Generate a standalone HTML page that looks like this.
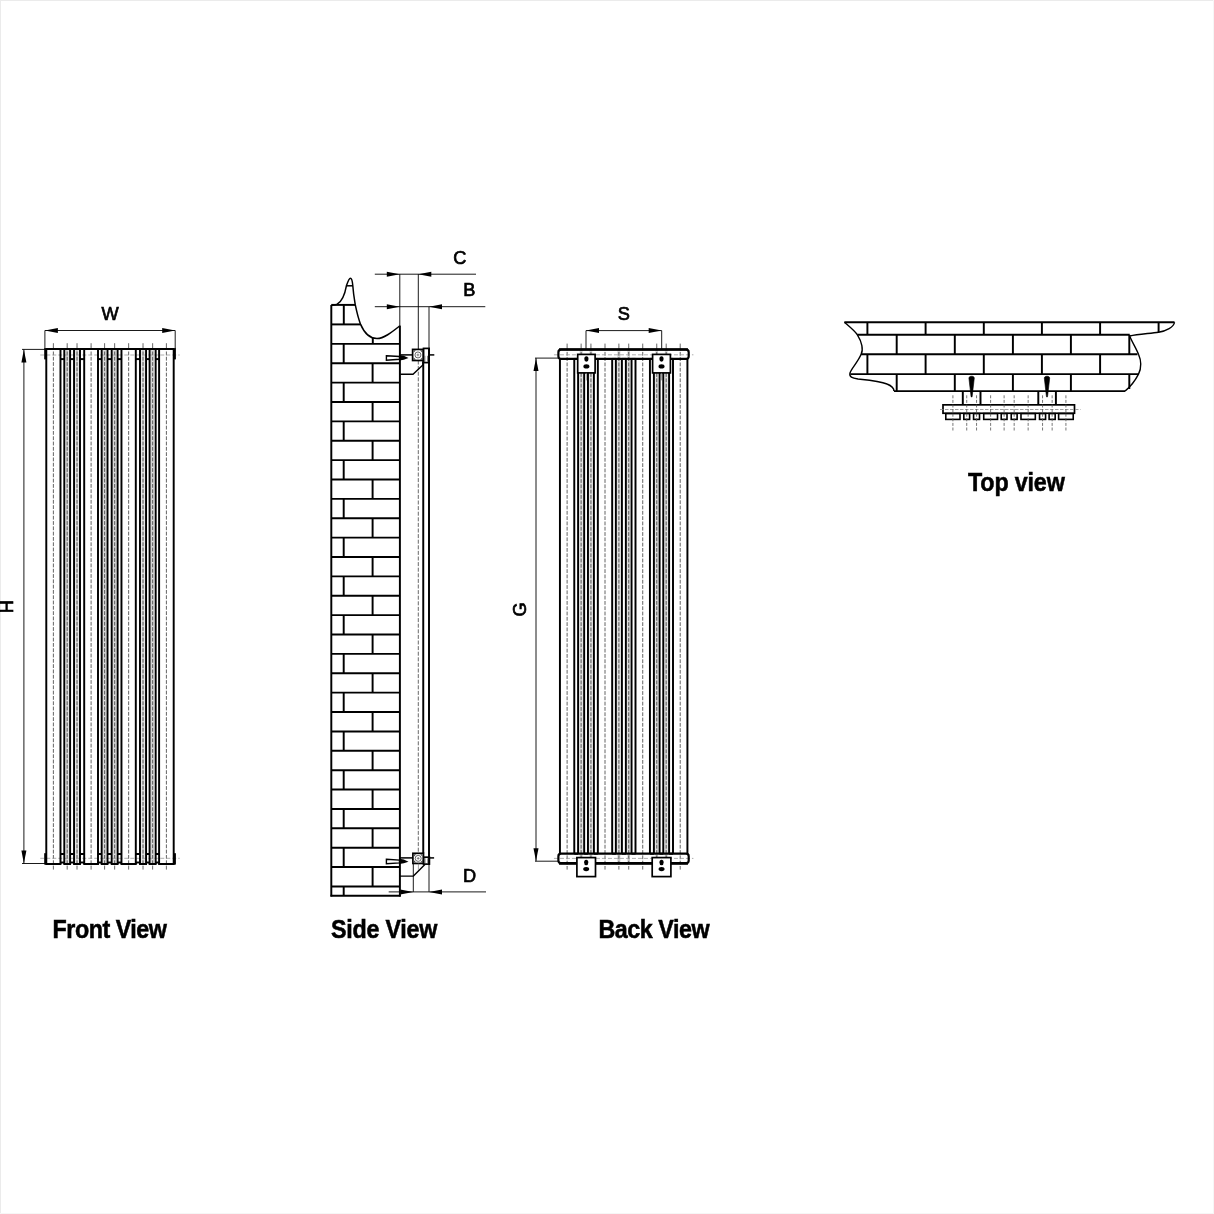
<!DOCTYPE html>
<html><head><meta charset="utf-8"><style>
html,body{margin:0;padding:0;background:#fff;}
body{width:1214px;height:1214px;overflow:hidden;position:relative;}
svg{position:absolute;left:0;top:0;will-change:transform;}
</style></head><body>
<svg width="1214" height="1214" viewBox="0 0 1214 1214">
<rect x="0" y="0" width="1214" height="1214" fill="#fff"/>
<line x1="0" y1="0.5" x2="1214" y2="0.5" stroke="#ebebeb" stroke-width="1"/>
<line x1="0.5" y1="0" x2="0.5" y2="1214" stroke="#ebebeb" stroke-width="1"/>
<line x1="1213.5" y1="0" x2="1213.5" y2="1214" stroke="#f6f6f6" stroke-width="1"/>
<line x1="0" y1="1213.5" x2="1214" y2="1213.5" stroke="#f6f6f6" stroke-width="1"/>
<line x1="53.38" y1="346.20" x2="53.38" y2="866.60" stroke="#3c3c3c" stroke-width="0.8" stroke-dasharray="3.8 1.5"/>
<line x1="53.38" y1="343.20" x2="53.38" y2="346.40" stroke="#444" stroke-width="0.8" />
<line x1="53.38" y1="866.40" x2="53.38" y2="869.60" stroke="#444" stroke-width="0.8" />
<rect x="66.10" y="349.00" width="2.20" height="515.00" fill="#e2e2e2" stroke="none" stroke-width="0" />
<line x1="66.30" y1="349.00" x2="66.30" y2="864.00" stroke="#b0b0b0" stroke-width="0.45" />
<line x1="68.10" y1="349.00" x2="68.10" y2="864.00" stroke="#b0b0b0" stroke-width="0.45" />
<line x1="67.20" y1="346.20" x2="67.20" y2="866.60" stroke="#3c3c3c" stroke-width="0.8" stroke-dasharray="3.8 1.5"/>
<line x1="67.20" y1="343.20" x2="67.20" y2="346.40" stroke="#444" stroke-width="0.8" />
<line x1="67.20" y1="866.40" x2="67.20" y2="869.60" stroke="#444" stroke-width="0.8" />
<rect x="75.86" y="349.00" width="2.34" height="515.00" fill="#e2e2e2" stroke="none" stroke-width="0" />
<line x1="76.06" y1="349.00" x2="76.06" y2="864.00" stroke="#b0b0b0" stroke-width="0.45" />
<line x1="78.00" y1="349.00" x2="78.00" y2="864.00" stroke="#b0b0b0" stroke-width="0.45" />
<line x1="77.03" y1="346.20" x2="77.03" y2="866.60" stroke="#3c3c3c" stroke-width="0.8" stroke-dasharray="3.8 1.5"/>
<line x1="77.03" y1="343.20" x2="77.03" y2="346.40" stroke="#444" stroke-width="0.8" />
<line x1="77.03" y1="866.40" x2="77.03" y2="869.60" stroke="#444" stroke-width="0.8" />
<line x1="91.10" y1="346.20" x2="91.10" y2="866.60" stroke="#3c3c3c" stroke-width="0.8" stroke-dasharray="3.8 1.5"/>
<line x1="91.10" y1="343.20" x2="91.10" y2="346.40" stroke="#444" stroke-width="0.8" />
<line x1="91.10" y1="866.40" x2="91.10" y2="869.60" stroke="#444" stroke-width="0.8" />
<rect x="103.50" y="349.00" width="2.20" height="515.00" fill="#e2e2e2" stroke="none" stroke-width="0" />
<line x1="103.70" y1="349.00" x2="103.70" y2="864.00" stroke="#b0b0b0" stroke-width="0.45" />
<line x1="105.50" y1="349.00" x2="105.50" y2="864.00" stroke="#b0b0b0" stroke-width="0.45" />
<line x1="104.60" y1="346.20" x2="104.60" y2="866.60" stroke="#3c3c3c" stroke-width="0.8" stroke-dasharray="3.8 1.5"/>
<line x1="104.60" y1="343.20" x2="104.60" y2="346.40" stroke="#444" stroke-width="0.8" />
<line x1="104.60" y1="866.40" x2="104.60" y2="869.60" stroke="#444" stroke-width="0.8" />
<rect x="113.50" y="349.00" width="2.30" height="515.00" fill="#e2e2e2" stroke="none" stroke-width="0" />
<line x1="113.70" y1="349.00" x2="113.70" y2="864.00" stroke="#b0b0b0" stroke-width="0.45" />
<line x1="115.60" y1="349.00" x2="115.60" y2="864.00" stroke="#b0b0b0" stroke-width="0.45" />
<line x1="114.65" y1="346.20" x2="114.65" y2="866.60" stroke="#3c3c3c" stroke-width="0.8" stroke-dasharray="3.8 1.5"/>
<line x1="114.65" y1="343.20" x2="114.65" y2="346.40" stroke="#444" stroke-width="0.8" />
<line x1="114.65" y1="866.40" x2="114.65" y2="869.60" stroke="#444" stroke-width="0.8" />
<line x1="128.63" y1="346.20" x2="128.63" y2="866.60" stroke="#3c3c3c" stroke-width="0.8" stroke-dasharray="3.8 1.5"/>
<line x1="128.63" y1="343.20" x2="128.63" y2="346.40" stroke="#444" stroke-width="0.8" />
<line x1="128.63" y1="866.40" x2="128.63" y2="869.60" stroke="#444" stroke-width="0.8" />
<rect x="141.80" y="349.00" width="2.45" height="515.00" fill="#e2e2e2" stroke="none" stroke-width="0" />
<line x1="142.00" y1="349.00" x2="142.00" y2="864.00" stroke="#b0b0b0" stroke-width="0.45" />
<line x1="144.05" y1="349.00" x2="144.05" y2="864.00" stroke="#b0b0b0" stroke-width="0.45" />
<line x1="143.03" y1="346.20" x2="143.03" y2="866.60" stroke="#3c3c3c" stroke-width="0.8" stroke-dasharray="3.8 1.5"/>
<line x1="143.03" y1="343.20" x2="143.03" y2="346.40" stroke="#444" stroke-width="0.8" />
<line x1="143.03" y1="866.40" x2="143.03" y2="869.60" stroke="#444" stroke-width="0.8" />
<rect x="151.40" y="349.00" width="2.46" height="515.00" fill="#e2e2e2" stroke="none" stroke-width="0" />
<line x1="151.60" y1="349.00" x2="151.60" y2="864.00" stroke="#b0b0b0" stroke-width="0.45" />
<line x1="153.66" y1="349.00" x2="153.66" y2="864.00" stroke="#b0b0b0" stroke-width="0.45" />
<line x1="152.63" y1="346.20" x2="152.63" y2="866.60" stroke="#3c3c3c" stroke-width="0.8" stroke-dasharray="3.8 1.5"/>
<line x1="152.63" y1="343.20" x2="152.63" y2="346.40" stroke="#444" stroke-width="0.8" />
<line x1="152.63" y1="866.40" x2="152.63" y2="869.60" stroke="#444" stroke-width="0.8" />
<line x1="166.40" y1="346.20" x2="166.40" y2="866.60" stroke="#3c3c3c" stroke-width="0.8" stroke-dasharray="3.8 1.5"/>
<line x1="166.40" y1="343.20" x2="166.40" y2="346.40" stroke="#444" stroke-width="0.8" />
<line x1="166.40" y1="866.40" x2="166.40" y2="869.60" stroke="#444" stroke-width="0.8" />
<line x1="40.28" y1="355.00" x2="179.70" y2="355.00" stroke="#999" stroke-width="0.8" stroke-dasharray="4 2"/>
<line x1="40.28" y1="858.30" x2="179.70" y2="858.30" stroke="#999" stroke-width="0.8" stroke-dasharray="4 2"/>
<line x1="46.28" y1="349.00" x2="46.28" y2="864.00" stroke="#000" stroke-width="1.95" />
<line x1="60.48" y1="349.00" x2="60.48" y2="864.00" stroke="#000" stroke-width="1.95" />
<line x1="64.30" y1="349.00" x2="64.30" y2="864.00" stroke="#000" stroke-width="1.95" />
<line x1="70.10" y1="349.00" x2="70.10" y2="864.00" stroke="#000" stroke-width="1.95" />
<line x1="74.06" y1="349.00" x2="74.06" y2="864.00" stroke="#000" stroke-width="1.95" />
<line x1="80.00" y1="349.00" x2="80.00" y2="864.00" stroke="#000" stroke-width="1.95" />
<line x1="84.20" y1="349.00" x2="84.20" y2="864.00" stroke="#000" stroke-width="1.95" />
<line x1="98.00" y1="349.00" x2="98.00" y2="864.00" stroke="#000" stroke-width="1.95" />
<line x1="101.70" y1="349.00" x2="101.70" y2="864.00" stroke="#000" stroke-width="1.95" />
<line x1="107.50" y1="349.00" x2="107.50" y2="864.00" stroke="#000" stroke-width="1.95" />
<line x1="111.70" y1="349.00" x2="111.70" y2="864.00" stroke="#000" stroke-width="1.95" />
<line x1="117.60" y1="349.00" x2="117.60" y2="864.00" stroke="#000" stroke-width="1.95" />
<line x1="121.46" y1="349.00" x2="121.46" y2="864.00" stroke="#000" stroke-width="1.95" />
<line x1="135.80" y1="349.00" x2="135.80" y2="864.00" stroke="#000" stroke-width="1.95" />
<line x1="140.00" y1="349.00" x2="140.00" y2="864.00" stroke="#000" stroke-width="1.95" />
<line x1="146.05" y1="349.00" x2="146.05" y2="864.00" stroke="#000" stroke-width="1.95" />
<line x1="149.60" y1="349.00" x2="149.60" y2="864.00" stroke="#000" stroke-width="1.95" />
<line x1="155.66" y1="349.00" x2="155.66" y2="864.00" stroke="#000" stroke-width="1.95" />
<line x1="159.10" y1="349.00" x2="159.10" y2="864.00" stroke="#000" stroke-width="1.95" />
<line x1="173.70" y1="349.00" x2="173.70" y2="864.00" stroke="#000" stroke-width="1.95" />
<line x1="60.48" y1="359.10" x2="64.30" y2="359.10" stroke="#000" stroke-width="1.95" />
<line x1="60.48" y1="854.00" x2="64.30" y2="854.00" stroke="#000" stroke-width="1.95" />
<line x1="70.10" y1="359.10" x2="74.06" y2="359.10" stroke="#000" stroke-width="1.95" />
<line x1="70.10" y1="854.00" x2="74.06" y2="854.00" stroke="#000" stroke-width="1.95" />
<line x1="80.00" y1="359.10" x2="84.20" y2="359.10" stroke="#000" stroke-width="1.95" />
<line x1="80.00" y1="854.00" x2="84.20" y2="854.00" stroke="#000" stroke-width="1.95" />
<line x1="98.00" y1="359.10" x2="101.70" y2="359.10" stroke="#000" stroke-width="1.95" />
<line x1="98.00" y1="854.00" x2="101.70" y2="854.00" stroke="#000" stroke-width="1.95" />
<line x1="107.50" y1="359.10" x2="111.70" y2="359.10" stroke="#000" stroke-width="1.95" />
<line x1="107.50" y1="854.00" x2="111.70" y2="854.00" stroke="#000" stroke-width="1.95" />
<line x1="117.60" y1="359.10" x2="121.46" y2="359.10" stroke="#000" stroke-width="1.95" />
<line x1="117.60" y1="854.00" x2="121.46" y2="854.00" stroke="#000" stroke-width="1.95" />
<line x1="135.80" y1="359.10" x2="140.00" y2="359.10" stroke="#000" stroke-width="1.95" />
<line x1="135.80" y1="854.00" x2="140.00" y2="854.00" stroke="#000" stroke-width="1.95" />
<line x1="146.05" y1="359.10" x2="149.60" y2="359.10" stroke="#000" stroke-width="1.95" />
<line x1="146.05" y1="854.00" x2="149.60" y2="854.00" stroke="#000" stroke-width="1.95" />
<line x1="155.66" y1="359.10" x2="159.10" y2="359.10" stroke="#000" stroke-width="1.95" />
<line x1="155.66" y1="854.00" x2="159.10" y2="854.00" stroke="#000" stroke-width="1.95" />
<line x1="45.43" y1="349.00" x2="174.55" y2="349.00" stroke="#000" stroke-width="1.95" />
<line x1="45.31" y1="864.00" x2="61.45" y2="864.00" stroke="#000" stroke-width="1.95" />
<line x1="63.33" y1="864.00" x2="71.07" y2="864.00" stroke="#000" stroke-width="1.95" />
<line x1="73.09" y1="864.00" x2="80.97" y2="864.00" stroke="#000" stroke-width="1.95" />
<line x1="83.23" y1="864.00" x2="98.97" y2="864.00" stroke="#000" stroke-width="1.95" />
<line x1="100.73" y1="864.00" x2="108.47" y2="864.00" stroke="#000" stroke-width="1.95" />
<line x1="110.73" y1="864.00" x2="118.57" y2="864.00" stroke="#000" stroke-width="1.95" />
<line x1="120.49" y1="864.00" x2="136.77" y2="864.00" stroke="#000" stroke-width="1.95" />
<line x1="139.03" y1="864.00" x2="147.02" y2="864.00" stroke="#000" stroke-width="1.95" />
<line x1="148.63" y1="864.00" x2="156.63" y2="864.00" stroke="#000" stroke-width="1.95" />
<line x1="158.13" y1="864.00" x2="174.67" y2="864.00" stroke="#000" stroke-width="1.95" />
<line x1="60.48" y1="862.50" x2="64.30" y2="862.50" stroke="#000" stroke-width="1.95" />
<line x1="70.10" y1="862.50" x2="74.06" y2="862.50" stroke="#000" stroke-width="1.95" />
<line x1="80.00" y1="862.50" x2="84.20" y2="862.50" stroke="#000" stroke-width="1.95" />
<line x1="98.00" y1="862.50" x2="101.70" y2="862.50" stroke="#000" stroke-width="1.95" />
<line x1="107.50" y1="862.50" x2="111.70" y2="862.50" stroke="#000" stroke-width="1.95" />
<line x1="117.60" y1="862.50" x2="121.46" y2="862.50" stroke="#000" stroke-width="1.95" />
<line x1="135.80" y1="862.50" x2="140.00" y2="862.50" stroke="#000" stroke-width="1.95" />
<line x1="146.05" y1="862.50" x2="149.60" y2="862.50" stroke="#000" stroke-width="1.95" />
<line x1="155.66" y1="862.50" x2="159.10" y2="862.50" stroke="#000" stroke-width="1.95" />
<rect x="44.20" y="348.20" width="2.70" height="11.20" fill="#000" stroke="none" stroke-width="0" />
<rect x="173.20" y="348.20" width="2.70" height="11.20" fill="#000" stroke="none" stroke-width="0" />
<rect x="44.20" y="853.20" width="2.70" height="11.40" fill="#000" stroke="none" stroke-width="0" />
<rect x="173.20" y="853.20" width="2.70" height="11.40" fill="#000" stroke="none" stroke-width="0" />
<line x1="44.90" y1="330.50" x2="175.20" y2="330.50" stroke="#000" stroke-width="0.9" />
<polygon points="44.90,330.50 57.90,328.00 57.90,333.00" fill="#000"/>
<polygon points="175.20,330.50 162.20,333.00 162.20,328.00" fill="#000"/>
<line x1="44.90" y1="330.50" x2="44.90" y2="349.00" stroke="#000" stroke-width="0.9" />
<line x1="175.20" y1="330.50" x2="175.20" y2="349.00" stroke="#000" stroke-width="0.9" />
<text x="110.2" y="320.1" font-family="Liberation Sans" font-size="18.2" font-weight="normal" text-anchor="middle" stroke="#000" stroke-width="0.7">W</text>
<line x1="23.90" y1="349.40" x2="23.90" y2="863.50" stroke="#000" stroke-width="0.9" />
<polygon points="23.90,349.40 26.40,362.40 21.40,362.40" fill="#000"/>
<polygon points="23.90,863.50 21.40,850.50 26.40,850.50" fill="#000"/>
<line x1="22.00" y1="349.40" x2="45.00" y2="349.40" stroke="#000" stroke-width="0.9" />
<line x1="22.00" y1="863.50" x2="45.00" y2="863.50" stroke="#000" stroke-width="0.9" />
<text x="0" y="0" font-family="Liberation Sans" font-size="18.2" text-anchor="middle" stroke="#000" stroke-width="0.7" transform="translate(12.8,606.8) rotate(-90)">H</text>
<line x1="567.11" y1="346.60" x2="567.11" y2="866.60" stroke="#3c3c3c" stroke-width="0.8" stroke-dasharray="3.8 1.5"/>
<line x1="567.11" y1="343.60" x2="567.11" y2="346.80" stroke="#444" stroke-width="0.8" />
<line x1="567.11" y1="866.40" x2="567.11" y2="869.60" stroke="#444" stroke-width="0.8" />
<rect x="579.90" y="349.20" width="2.46" height="515.20" fill="#e2e2e2" stroke="none" stroke-width="0" />
<line x1="580.10" y1="349.20" x2="580.10" y2="864.40" stroke="#b0b0b0" stroke-width="0.45" />
<line x1="582.16" y1="349.20" x2="582.16" y2="864.40" stroke="#b0b0b0" stroke-width="0.45" />
<line x1="581.13" y1="346.60" x2="581.13" y2="866.60" stroke="#3c3c3c" stroke-width="0.8" stroke-dasharray="3.8 1.5"/>
<line x1="581.13" y1="343.60" x2="581.13" y2="346.80" stroke="#444" stroke-width="0.8" />
<line x1="581.13" y1="866.40" x2="581.13" y2="869.60" stroke="#444" stroke-width="0.8" />
<rect x="589.77" y="349.20" width="2.33" height="515.20" fill="#e2e2e2" stroke="none" stroke-width="0" />
<line x1="589.97" y1="349.20" x2="589.97" y2="864.40" stroke="#b0b0b0" stroke-width="0.45" />
<line x1="591.90" y1="349.20" x2="591.90" y2="864.40" stroke="#b0b0b0" stroke-width="0.45" />
<line x1="590.93" y1="346.60" x2="590.93" y2="866.60" stroke="#3c3c3c" stroke-width="0.8" stroke-dasharray="3.8 1.5"/>
<line x1="590.93" y1="343.60" x2="590.93" y2="346.80" stroke="#444" stroke-width="0.8" />
<line x1="590.93" y1="866.40" x2="590.93" y2="869.60" stroke="#444" stroke-width="0.8" />
<line x1="605.01" y1="346.60" x2="605.01" y2="866.60" stroke="#3c3c3c" stroke-width="0.8" stroke-dasharray="3.8 1.5"/>
<line x1="605.01" y1="343.60" x2="605.01" y2="346.80" stroke="#444" stroke-width="0.8" />
<line x1="605.01" y1="866.40" x2="605.01" y2="869.60" stroke="#444" stroke-width="0.8" />
<rect x="617.66" y="349.20" width="2.44" height="515.20" fill="#e2e2e2" stroke="none" stroke-width="0" />
<line x1="617.86" y1="349.20" x2="617.86" y2="864.40" stroke="#b0b0b0" stroke-width="0.45" />
<line x1="619.90" y1="349.20" x2="619.90" y2="864.40" stroke="#b0b0b0" stroke-width="0.45" />
<line x1="618.88" y1="346.60" x2="618.88" y2="866.60" stroke="#3c3c3c" stroke-width="0.8" stroke-dasharray="3.8 1.5"/>
<line x1="618.88" y1="343.60" x2="618.88" y2="346.80" stroke="#444" stroke-width="0.8" />
<line x1="618.88" y1="866.40" x2="618.88" y2="869.60" stroke="#444" stroke-width="0.8" />
<rect x="627.67" y="349.20" width="2.08" height="515.20" fill="#e2e2e2" stroke="none" stroke-width="0" />
<line x1="627.87" y1="349.20" x2="627.87" y2="864.40" stroke="#b0b0b0" stroke-width="0.45" />
<line x1="629.55" y1="349.20" x2="629.55" y2="864.40" stroke="#b0b0b0" stroke-width="0.45" />
<line x1="628.71" y1="346.60" x2="628.71" y2="866.60" stroke="#3c3c3c" stroke-width="0.8" stroke-dasharray="3.8 1.5"/>
<line x1="628.71" y1="343.60" x2="628.71" y2="346.80" stroke="#444" stroke-width="0.8" />
<line x1="628.71" y1="866.40" x2="628.71" y2="869.60" stroke="#444" stroke-width="0.8" />
<line x1="642.72" y1="346.60" x2="642.72" y2="866.60" stroke="#3c3c3c" stroke-width="0.8" stroke-dasharray="3.8 1.5"/>
<line x1="642.72" y1="343.60" x2="642.72" y2="346.80" stroke="#444" stroke-width="0.8" />
<line x1="642.72" y1="866.40" x2="642.72" y2="869.60" stroke="#444" stroke-width="0.8" />
<rect x="655.70" y="349.20" width="2.08" height="515.20" fill="#e2e2e2" stroke="none" stroke-width="0" />
<line x1="655.90" y1="349.20" x2="655.90" y2="864.40" stroke="#b0b0b0" stroke-width="0.45" />
<line x1="657.58" y1="349.20" x2="657.58" y2="864.40" stroke="#b0b0b0" stroke-width="0.45" />
<line x1="656.74" y1="346.60" x2="656.74" y2="866.60" stroke="#3c3c3c" stroke-width="0.8" stroke-dasharray="3.8 1.5"/>
<line x1="656.74" y1="343.60" x2="656.74" y2="346.80" stroke="#444" stroke-width="0.8" />
<line x1="656.74" y1="866.40" x2="656.74" y2="869.60" stroke="#444" stroke-width="0.8" />
<rect x="665.08" y="349.20" width="2.22" height="515.20" fill="#e2e2e2" stroke="none" stroke-width="0" />
<line x1="665.28" y1="349.20" x2="665.28" y2="864.40" stroke="#b0b0b0" stroke-width="0.45" />
<line x1="667.10" y1="349.20" x2="667.10" y2="864.40" stroke="#b0b0b0" stroke-width="0.45" />
<line x1="666.19" y1="346.60" x2="666.19" y2="866.60" stroke="#3c3c3c" stroke-width="0.8" stroke-dasharray="3.8 1.5"/>
<line x1="666.19" y1="343.60" x2="666.19" y2="346.80" stroke="#444" stroke-width="0.8" />
<line x1="666.19" y1="866.40" x2="666.19" y2="869.60" stroke="#444" stroke-width="0.8" />
<line x1="680.21" y1="346.60" x2="680.21" y2="866.60" stroke="#3c3c3c" stroke-width="0.8" stroke-dasharray="3.8 1.5"/>
<line x1="680.21" y1="343.60" x2="680.21" y2="346.80" stroke="#444" stroke-width="0.8" />
<line x1="680.21" y1="866.40" x2="680.21" y2="869.60" stroke="#444" stroke-width="0.8" />
<line x1="553.94" y1="354.80" x2="693.42" y2="354.80" stroke="#999" stroke-width="0.8" stroke-dasharray="4 2"/>
<line x1="553.94" y1="858.40" x2="693.42" y2="858.40" stroke="#999" stroke-width="0.8" stroke-dasharray="4 2"/>
<line x1="559.94" y1="358.90" x2="559.94" y2="853.70" stroke="#000" stroke-width="1.95" />
<line x1="574.27" y1="358.90" x2="574.27" y2="853.70" stroke="#000" stroke-width="1.95" />
<line x1="578.10" y1="358.90" x2="578.10" y2="853.70" stroke="#000" stroke-width="1.95" />
<line x1="584.16" y1="358.90" x2="584.16" y2="853.70" stroke="#000" stroke-width="1.95" />
<line x1="587.97" y1="358.90" x2="587.97" y2="853.70" stroke="#000" stroke-width="1.95" />
<line x1="593.90" y1="358.90" x2="593.90" y2="853.70" stroke="#000" stroke-width="1.95" />
<line x1="597.85" y1="358.90" x2="597.85" y2="853.70" stroke="#000" stroke-width="1.95" />
<line x1="612.18" y1="358.90" x2="612.18" y2="853.70" stroke="#000" stroke-width="1.95" />
<line x1="615.86" y1="358.90" x2="615.86" y2="853.70" stroke="#000" stroke-width="1.95" />
<line x1="621.90" y1="358.90" x2="621.90" y2="853.70" stroke="#000" stroke-width="1.95" />
<line x1="625.87" y1="358.90" x2="625.87" y2="853.70" stroke="#000" stroke-width="1.95" />
<line x1="631.55" y1="358.90" x2="631.55" y2="853.70" stroke="#000" stroke-width="1.95" />
<line x1="635.50" y1="358.90" x2="635.50" y2="853.70" stroke="#000" stroke-width="1.95" />
<line x1="649.94" y1="358.90" x2="649.94" y2="853.70" stroke="#000" stroke-width="1.95" />
<line x1="653.90" y1="358.90" x2="653.90" y2="853.70" stroke="#000" stroke-width="1.95" />
<line x1="659.58" y1="358.90" x2="659.58" y2="853.70" stroke="#000" stroke-width="1.95" />
<line x1="663.28" y1="358.90" x2="663.28" y2="853.70" stroke="#000" stroke-width="1.95" />
<line x1="669.10" y1="358.90" x2="669.10" y2="853.70" stroke="#000" stroke-width="1.95" />
<line x1="673.00" y1="358.90" x2="673.00" y2="853.70" stroke="#000" stroke-width="1.95" />
<line x1="687.42" y1="358.90" x2="687.42" y2="853.70" stroke="#000" stroke-width="1.95" />
<line x1="574.27" y1="358.90" x2="578.10" y2="358.90" stroke="#000" stroke-width="1.95" />
<line x1="574.27" y1="853.70" x2="578.10" y2="853.70" stroke="#000" stroke-width="1.95" />
<line x1="584.16" y1="358.90" x2="587.97" y2="358.90" stroke="#000" stroke-width="1.95" />
<line x1="584.16" y1="853.70" x2="587.97" y2="853.70" stroke="#000" stroke-width="1.95" />
<line x1="593.90" y1="358.90" x2="597.85" y2="358.90" stroke="#000" stroke-width="1.95" />
<line x1="593.90" y1="853.70" x2="597.85" y2="853.70" stroke="#000" stroke-width="1.95" />
<line x1="612.18" y1="358.90" x2="615.86" y2="358.90" stroke="#000" stroke-width="1.95" />
<line x1="612.18" y1="853.70" x2="615.86" y2="853.70" stroke="#000" stroke-width="1.95" />
<line x1="621.90" y1="358.90" x2="625.87" y2="358.90" stroke="#000" stroke-width="1.95" />
<line x1="621.90" y1="853.70" x2="625.87" y2="853.70" stroke="#000" stroke-width="1.95" />
<line x1="631.55" y1="358.90" x2="635.50" y2="358.90" stroke="#000" stroke-width="1.95" />
<line x1="631.55" y1="853.70" x2="635.50" y2="853.70" stroke="#000" stroke-width="1.95" />
<line x1="649.94" y1="358.90" x2="653.90" y2="358.90" stroke="#000" stroke-width="1.95" />
<line x1="649.94" y1="853.70" x2="653.90" y2="853.70" stroke="#000" stroke-width="1.95" />
<line x1="659.58" y1="358.90" x2="663.28" y2="358.90" stroke="#000" stroke-width="1.95" />
<line x1="659.58" y1="853.70" x2="663.28" y2="853.70" stroke="#000" stroke-width="1.95" />
<line x1="669.10" y1="358.90" x2="673.00" y2="358.90" stroke="#000" stroke-width="1.95" />
<line x1="669.10" y1="853.70" x2="673.00" y2="853.70" stroke="#000" stroke-width="1.95" />
<rect x="558.4" y="349.6" width="130.3" height="9.3" rx="2.6" fill="none" stroke="#000" stroke-width="2.2"/>
<line x1="559.00" y1="349.40" x2="688.00" y2="349.40" stroke="#000" stroke-width="2.4" />
<rect x="558.4" y="853.7" width="130.3" height="9.4" rx="2.6" fill="none" stroke="#000" stroke-width="2.2"/>
<line x1="559.00" y1="863.40" x2="688.00" y2="863.40" stroke="#000" stroke-width="2.6" />
<rect x="577.70" y="354.40" width="17.40" height="18.50" fill="#fff" stroke="#000" stroke-width="1.7" />
<ellipse cx="586.40" cy="359.0" rx="2.1" ry="2.7" fill="#000"/>
<ellipse cx="586.40" cy="366.4" rx="3.0" ry="2.1" fill="#000"/>
<line x1="586.40" y1="372.90" x2="586.40" y2="380.40" stroke="#666" stroke-width="0.6" />
<rect x="652.60" y="354.40" width="17.80" height="18.50" fill="#fff" stroke="#000" stroke-width="1.7" />
<ellipse cx="661.50" cy="359.0" rx="2.1" ry="2.7" fill="#000"/>
<ellipse cx="661.50" cy="366.4" rx="3.0" ry="2.1" fill="#000"/>
<line x1="661.50" y1="372.90" x2="661.50" y2="380.40" stroke="#666" stroke-width="0.6" />
<rect x="576.90" y="857.60" width="18.60" height="19.00" fill="#fff" stroke="#000" stroke-width="1.7" />
<ellipse cx="586.20" cy="862.5" rx="2.1" ry="2.7" fill="#000"/>
<ellipse cx="586.20" cy="869.1" rx="3.0" ry="2.1" fill="#000"/>
<rect x="652.20" y="857.60" width="18.70" height="19.00" fill="#fff" stroke="#000" stroke-width="1.7" />
<ellipse cx="661.55" cy="862.5" rx="2.1" ry="2.7" fill="#000"/>
<ellipse cx="661.55" cy="869.1" rx="3.0" ry="2.1" fill="#000"/>
<line x1="586.00" y1="330.60" x2="661.70" y2="330.60" stroke="#000" stroke-width="0.9" />
<polygon points="586.00,330.60 599.00,328.10 599.00,333.10" fill="#000"/>
<polygon points="661.70,330.60 648.70,333.10 648.70,328.10" fill="#000"/>
<line x1="586.00" y1="330.60" x2="586.00" y2="349.00" stroke="#000" stroke-width="0.9" />
<line x1="661.70" y1="330.60" x2="661.70" y2="349.00" stroke="#000" stroke-width="0.9" />
<text x="623.7" y="320.3" font-family="Liberation Sans" font-size="18.2" font-weight="normal" text-anchor="middle" stroke="#000" stroke-width="0.7">S</text>
<line x1="536.00" y1="358.10" x2="536.00" y2="861.20" stroke="#000" stroke-width="0.9" />
<polygon points="536.00,358.10 538.50,371.10 533.50,371.10" fill="#000"/>
<polygon points="536.00,861.20 533.50,848.20 538.50,848.20" fill="#000"/>
<line x1="535.00" y1="358.10" x2="558.00" y2="358.10" stroke="#000" stroke-width="0.9" />
<line x1="535.00" y1="861.20" x2="558.00" y2="861.20" stroke="#000" stroke-width="0.9" />
<text x="0" y="0" font-family="Liberation Sans" font-size="18.2" text-anchor="middle" stroke="#000" stroke-width="0.7" transform="translate(525.9,609.5) rotate(-90)">G</text>
<line x1="331.30" y1="304.90" x2="331.30" y2="896.60" stroke="#000" stroke-width="1.95" />
<line x1="399.90" y1="325.40" x2="399.90" y2="896.60" stroke="#000" stroke-width="1.95" />
<line x1="330.45" y1="895.80" x2="400.75" y2="895.80" stroke="#000" stroke-width="1.95" />
<line x1="331.30" y1="304.90" x2="355.30" y2="304.90" stroke="#000" stroke-width="1.95" />
<line x1="331.30" y1="324.40" x2="360.60" y2="324.40" stroke="#000" stroke-width="1.95" />
<line x1="331.30" y1="343.88" x2="399.90" y2="343.88" stroke="#000" stroke-width="1.95" />
<line x1="331.30" y1="363.25" x2="399.90" y2="363.25" stroke="#000" stroke-width="1.95" />
<line x1="331.30" y1="382.63" x2="399.90" y2="382.63" stroke="#000" stroke-width="1.95" />
<line x1="331.30" y1="402.00" x2="399.90" y2="402.00" stroke="#000" stroke-width="1.95" />
<line x1="331.30" y1="421.38" x2="399.90" y2="421.38" stroke="#000" stroke-width="1.95" />
<line x1="331.30" y1="440.76" x2="399.90" y2="440.76" stroke="#000" stroke-width="1.95" />
<line x1="331.30" y1="460.13" x2="399.90" y2="460.13" stroke="#000" stroke-width="1.95" />
<line x1="331.30" y1="479.51" x2="399.90" y2="479.51" stroke="#000" stroke-width="1.95" />
<line x1="331.30" y1="498.88" x2="399.90" y2="498.88" stroke="#000" stroke-width="1.95" />
<line x1="331.30" y1="518.26" x2="399.90" y2="518.26" stroke="#000" stroke-width="1.95" />
<line x1="331.30" y1="537.64" x2="399.90" y2="537.64" stroke="#000" stroke-width="1.95" />
<line x1="331.30" y1="557.01" x2="399.90" y2="557.01" stroke="#000" stroke-width="1.95" />
<line x1="331.30" y1="576.39" x2="399.90" y2="576.39" stroke="#000" stroke-width="1.95" />
<line x1="331.30" y1="595.76" x2="399.90" y2="595.76" stroke="#000" stroke-width="1.95" />
<line x1="331.30" y1="615.14" x2="399.90" y2="615.14" stroke="#000" stroke-width="1.95" />
<line x1="331.30" y1="634.52" x2="399.90" y2="634.52" stroke="#000" stroke-width="1.95" />
<line x1="331.30" y1="653.89" x2="399.90" y2="653.89" stroke="#000" stroke-width="1.95" />
<line x1="331.30" y1="673.27" x2="399.90" y2="673.27" stroke="#000" stroke-width="1.95" />
<line x1="331.30" y1="692.64" x2="399.90" y2="692.64" stroke="#000" stroke-width="1.95" />
<line x1="331.30" y1="712.02" x2="399.90" y2="712.02" stroke="#000" stroke-width="1.95" />
<line x1="331.30" y1="731.40" x2="399.90" y2="731.40" stroke="#000" stroke-width="1.95" />
<line x1="331.30" y1="750.77" x2="399.90" y2="750.77" stroke="#000" stroke-width="1.95" />
<line x1="331.30" y1="770.15" x2="399.90" y2="770.15" stroke="#000" stroke-width="1.95" />
<line x1="331.30" y1="789.52" x2="399.90" y2="789.52" stroke="#000" stroke-width="1.95" />
<line x1="331.30" y1="808.90" x2="399.90" y2="808.90" stroke="#000" stroke-width="1.95" />
<line x1="331.30" y1="828.28" x2="399.90" y2="828.28" stroke="#000" stroke-width="1.95" />
<line x1="331.30" y1="847.65" x2="399.90" y2="847.65" stroke="#000" stroke-width="1.95" />
<line x1="331.30" y1="867.03" x2="399.90" y2="867.03" stroke="#000" stroke-width="1.95" />
<line x1="331.30" y1="886.40" x2="399.90" y2="886.40" stroke="#000" stroke-width="1.95" />
<line x1="343.80" y1="304.90" x2="343.80" y2="324.40" stroke="#000" stroke-width="1.95" />
<line x1="372.80" y1="337.60" x2="372.80" y2="343.90" stroke="#000" stroke-width="1.95" />
<line x1="343.70" y1="343.88" x2="343.70" y2="363.25" stroke="#000" stroke-width="1.95" />
<line x1="372.60" y1="363.25" x2="372.60" y2="382.63" stroke="#000" stroke-width="1.95" />
<line x1="343.70" y1="382.63" x2="343.70" y2="402.00" stroke="#000" stroke-width="1.95" />
<line x1="372.60" y1="402.00" x2="372.60" y2="421.38" stroke="#000" stroke-width="1.95" />
<line x1="343.70" y1="421.38" x2="343.70" y2="440.76" stroke="#000" stroke-width="1.95" />
<line x1="372.60" y1="440.76" x2="372.60" y2="460.13" stroke="#000" stroke-width="1.95" />
<line x1="343.70" y1="460.13" x2="343.70" y2="479.51" stroke="#000" stroke-width="1.95" />
<line x1="372.60" y1="479.51" x2="372.60" y2="498.88" stroke="#000" stroke-width="1.95" />
<line x1="343.70" y1="498.88" x2="343.70" y2="518.26" stroke="#000" stroke-width="1.95" />
<line x1="372.60" y1="518.26" x2="372.60" y2="537.64" stroke="#000" stroke-width="1.95" />
<line x1="343.70" y1="537.64" x2="343.70" y2="557.01" stroke="#000" stroke-width="1.95" />
<line x1="372.60" y1="557.01" x2="372.60" y2="576.39" stroke="#000" stroke-width="1.95" />
<line x1="343.70" y1="576.39" x2="343.70" y2="595.76" stroke="#000" stroke-width="1.95" />
<line x1="372.60" y1="595.76" x2="372.60" y2="615.14" stroke="#000" stroke-width="1.95" />
<line x1="343.70" y1="615.14" x2="343.70" y2="634.52" stroke="#000" stroke-width="1.95" />
<line x1="372.60" y1="634.52" x2="372.60" y2="653.89" stroke="#000" stroke-width="1.95" />
<line x1="343.70" y1="653.89" x2="343.70" y2="673.27" stroke="#000" stroke-width="1.95" />
<line x1="372.60" y1="673.27" x2="372.60" y2="692.64" stroke="#000" stroke-width="1.95" />
<line x1="343.70" y1="692.64" x2="343.70" y2="712.02" stroke="#000" stroke-width="1.95" />
<line x1="372.60" y1="712.02" x2="372.60" y2="731.40" stroke="#000" stroke-width="1.95" />
<line x1="343.70" y1="731.40" x2="343.70" y2="750.77" stroke="#000" stroke-width="1.95" />
<line x1="372.60" y1="750.77" x2="372.60" y2="770.15" stroke="#000" stroke-width="1.95" />
<line x1="343.70" y1="770.15" x2="343.70" y2="789.52" stroke="#000" stroke-width="1.95" />
<line x1="372.60" y1="789.52" x2="372.60" y2="808.90" stroke="#000" stroke-width="1.95" />
<line x1="343.70" y1="808.90" x2="343.70" y2="828.28" stroke="#000" stroke-width="1.95" />
<line x1="372.60" y1="828.28" x2="372.60" y2="847.65" stroke="#000" stroke-width="1.95" />
<line x1="343.70" y1="847.65" x2="343.70" y2="867.03" stroke="#000" stroke-width="1.95" />
<line x1="372.60" y1="867.03" x2="372.60" y2="886.40" stroke="#000" stroke-width="1.95" />
<line x1="343.70" y1="886.40" x2="343.70" y2="895.80" stroke="#000" stroke-width="1.95" />
<path d="M331.3,305.6 C334,305.2 336,304.8 337.2,304.2 C342.2,301.2 345,293.5 346.4,285.8 C348,281 349,278.2 350.4,278.2 C352,278.2 352.5,282 352.8,285.8 C353.5,295 354.5,300 355.3,304.9 C357,313 358.5,319 360.6,324.4 C363,330 368,338.5 377,338.5 C384,338.5 392,332 399.9,325.8" stroke="#000" stroke-width="1.5" fill="none" />
<line x1="346.40" y1="285.80" x2="352.80" y2="285.80" stroke="#000" stroke-width="1.5" />
<line x1="418.30" y1="274.10" x2="418.30" y2="349.40" stroke="#000" stroke-width="0.9" />
<line x1="418.30" y1="360.50" x2="418.30" y2="853.30" stroke="#444" stroke-width="0.8" stroke-dasharray="4 1.6"/>
<line x1="423.25" y1="360.40" x2="423.25" y2="853.30" stroke="#000" stroke-width="1.95" />
<line x1="429.00" y1="348.80" x2="429.00" y2="864.20" stroke="#000" stroke-width="1.95" />
<line x1="429.00" y1="306.80" x2="429.00" y2="348.80" stroke="#000" stroke-width="0.9" />
<rect x="412.60" y="349.40" width="10.70" height="11.10" fill="#fff" stroke="#000" stroke-width="1.7" />
<path d="M413.45000000000005,350.25 h2.5 l-2.5,2.5 z M422.45,350.25 h-2.5 l2.5,2.5 z M413.45000000000005,359.65 h2.5 l-2.5,-2.5 z M422.45,359.65 h-2.5 l2.5,-2.5 z" fill="#444"/>
<circle cx="417.95" cy="354.95" r="3.0" fill="#fff" stroke="#444" stroke-width="0.8"/>
<line x1="417.95" y1="353.55" x2="417.95" y2="356.35" stroke="#444" stroke-width="0.6" />
<line x1="416.55" y1="354.95" x2="419.35" y2="354.95" stroke="#444" stroke-width="0.6" />
<rect x="423.50" y="348.40" width="5.60" height="14.20" fill="none" stroke="#000" stroke-width="1.7" />
<line x1="424.90" y1="355.80" x2="424.90" y2="361.80" stroke="#555" stroke-width="0.7" />
<line x1="427.50" y1="355.80" x2="427.50" y2="361.80" stroke="#555" stroke-width="0.7" />
<line x1="400.40" y1="354.90" x2="412.60" y2="354.90" stroke="#000" stroke-width="1.5" />
<line x1="429.10" y1="354.90" x2="434.30" y2="354.90" stroke="#000" stroke-width="1.5" />
<path d="M386.4,355.7 L399.5,356.5 L399.5,359.3 L386.4,360.2 Z" stroke="#000" stroke-width="1.4" fill="#fff" />
<path d="M399.5,355.1 L403.8,355.8 L408.5,358.1 L403.8,359.7 L399.5,360.4 Z" fill="#000"/>
<path d="M400.4,374.2 L413.0,374.2 L422.9,365.0 L422.9,362.0" stroke="#000" stroke-width="1.4" fill="none" />
<rect x="412.90" y="853.30" width="10.60" height="10.15" fill="#fff" stroke="#000" stroke-width="1.7" />
<path d="M413.75,854.15 h2.5 l-2.5,2.5 z M422.65,854.15 h-2.5 l2.5,2.5 z M413.75,862.6 h2.5 l-2.5,-2.5 z M422.65,862.6 h-2.5 l2.5,-2.5 z" fill="#444"/>
<circle cx="418.20" cy="858.38" r="3.0" fill="#fff" stroke="#444" stroke-width="0.8"/>
<line x1="418.20" y1="856.98" x2="418.20" y2="859.77" stroke="#444" stroke-width="0.6" />
<line x1="416.80" y1="858.38" x2="419.60" y2="858.38" stroke="#444" stroke-width="0.6" />
<rect x="423.50" y="857.20" width="5.90" height="6.90" fill="none" stroke="#000" stroke-width="1.7" />
<line x1="425.10" y1="858.30" x2="425.10" y2="863.40" stroke="#555" stroke-width="0.7" />
<line x1="427.70" y1="858.30" x2="427.70" y2="863.40" stroke="#555" stroke-width="0.7" />
<line x1="400.00" y1="857.90" x2="412.90" y2="857.90" stroke="#000" stroke-width="1.5" />
<line x1="429.40" y1="857.90" x2="434.10" y2="857.90" stroke="#000" stroke-width="1.5" />
<path d="M386.4,859.3000000000001 L399.5,860.1 L399.5,862.9 L386.4,863.8000000000001 Z" stroke="#000" stroke-width="1.4" fill="#fff" />
<path d="M399.5,858.7 L403.8,859.4 L408.5,861.7 L403.8,863.3000000000001 L399.5,864.0 Z" fill="#000"/>
<path d="M400.0,876.1 L413.4,876.1 L424.9,864.6" stroke="#000" stroke-width="1.4" fill="none" />
<line x1="418.40" y1="863.40" x2="418.40" y2="869.70" stroke="#666" stroke-width="0.6" />
<line x1="374.80" y1="274.20" x2="476.00" y2="274.20" stroke="#000" stroke-width="0.9" />
<polygon points="399.80,274.20 386.80,276.70 386.80,271.70" fill="#000"/>
<polygon points="418.30,274.20 431.30,271.70 431.30,276.70" fill="#000"/>
<line x1="399.80" y1="274.20" x2="399.80" y2="325.50" stroke="#000" stroke-width="0.9" />
<text x="459.8" y="263.6" font-family="Liberation Sans" font-size="18.2" font-weight="normal" text-anchor="middle" stroke="#000" stroke-width="0.7">C</text>
<line x1="374.80" y1="306.70" x2="485.30" y2="306.70" stroke="#000" stroke-width="0.9" />
<polygon points="399.80,306.70 386.80,309.20 386.80,304.20" fill="#000"/>
<polygon points="429.00,306.70 442.00,304.20 442.00,309.20" fill="#000"/>
<text x="469.2" y="295.7" font-family="Liberation Sans" font-size="18.2" font-weight="normal" text-anchor="middle" stroke="#000" stroke-width="0.7">B</text>
<line x1="388.70" y1="891.90" x2="486.00" y2="891.90" stroke="#000" stroke-width="0.9" />
<polygon points="413.30,891.90 400.30,894.40 400.30,889.40" fill="#000"/>
<polygon points="429.00,891.90 442.00,889.40 442.00,894.40" fill="#000"/>
<line x1="413.30" y1="863.40" x2="413.30" y2="891.90" stroke="#000" stroke-width="0.9" />
<line x1="429.00" y1="864.20" x2="429.00" y2="891.90" stroke="#000" stroke-width="0.9" />
<text x="469.6" y="881.7" font-family="Liberation Sans" font-size="18.2" font-weight="normal" text-anchor="middle" stroke="#000" stroke-width="0.7">D</text>
<line x1="844.40" y1="322.20" x2="1174.50" y2="322.20" stroke="#000" stroke-width="1.95" />
<line x1="857.40" y1="334.80" x2="1129.70" y2="334.80" stroke="#000" stroke-width="1.95" />
<line x1="861.10" y1="354.30" x2="1137.50" y2="354.30" stroke="#000" stroke-width="1.95" />
<line x1="850.40" y1="374.10" x2="1138.50" y2="374.10" stroke="#000" stroke-width="1.95" />
<line x1="894.00" y1="391.10" x2="1125.00" y2="391.10" stroke="#000" stroke-width="1.95" />
<line x1="867.40" y1="322.20" x2="867.40" y2="334.80" stroke="#000" stroke-width="1.95" />
<line x1="867.40" y1="354.30" x2="867.40" y2="374.10" stroke="#000" stroke-width="1.95" />
<line x1="925.60" y1="322.20" x2="925.60" y2="334.80" stroke="#000" stroke-width="1.95" />
<line x1="925.60" y1="354.30" x2="925.60" y2="374.10" stroke="#000" stroke-width="1.95" />
<line x1="983.80" y1="322.20" x2="983.80" y2="334.80" stroke="#000" stroke-width="1.95" />
<line x1="983.80" y1="354.30" x2="983.80" y2="374.10" stroke="#000" stroke-width="1.95" />
<line x1="1041.90" y1="322.20" x2="1041.90" y2="334.80" stroke="#000" stroke-width="1.95" />
<line x1="1041.90" y1="354.30" x2="1041.90" y2="374.10" stroke="#000" stroke-width="1.95" />
<line x1="1100.10" y1="322.20" x2="1100.10" y2="334.80" stroke="#000" stroke-width="1.95" />
<line x1="1100.10" y1="354.30" x2="1100.10" y2="374.10" stroke="#000" stroke-width="1.95" />
<line x1="1158.60" y1="322.20" x2="1158.60" y2="332.20" stroke="#000" stroke-width="1.95" />
<line x1="896.70" y1="334.80" x2="896.70" y2="354.30" stroke="#000" stroke-width="1.95" />
<line x1="896.70" y1="374.10" x2="896.70" y2="391.10" stroke="#000" stroke-width="1.95" />
<line x1="954.80" y1="334.80" x2="954.80" y2="354.30" stroke="#000" stroke-width="1.95" />
<line x1="954.80" y1="374.10" x2="954.80" y2="391.10" stroke="#000" stroke-width="1.95" />
<line x1="1012.90" y1="334.80" x2="1012.90" y2="354.30" stroke="#000" stroke-width="1.95" />
<line x1="1012.90" y1="374.10" x2="1012.90" y2="391.10" stroke="#000" stroke-width="1.95" />
<line x1="1070.90" y1="334.80" x2="1070.90" y2="354.30" stroke="#000" stroke-width="1.95" />
<line x1="1070.90" y1="374.10" x2="1070.90" y2="391.10" stroke="#000" stroke-width="1.95" />
<line x1="1129.30" y1="334.80" x2="1129.30" y2="354.30" stroke="#000" stroke-width="1.95" />
<line x1="1129.30" y1="374.10" x2="1129.30" y2="389.00" stroke="#000" stroke-width="1.95" />
<path d="M844.4,322.2 C850,327 855,331 857.4,334.8 C862,342 863.5,350 861.1,354.3 C858,362 851,369 850,373 C849,377 852,378.2 858,379 C868,380 880,381 887,384 C892,386 894,389 893.9,391.1" stroke="#000" stroke-width="1.4" fill="none" />
<path d="M1174.5,322.2 C1174,327 1166,331 1158.6,332.2 C1150,333.5 1138,334.2 1129.7,336 C1132,342 1136,348 1138.5,354.3 C1141,360 1142.5,366 1138.5,374.1 C1135,381 1130,387 1125,391.1" stroke="#000" stroke-width="1.4" fill="none" />
<path d="M968.9,378 C968.9,375.6 974.3000000000001,375.6 974.3000000000001,378 L972.2,396.2 L971.6,397.2 L971.0,396.2 Z" stroke="#000" stroke-width="0.6" fill="#000" />
<path d="M1044.3,378 C1044.3,375.6 1049.7,375.6 1049.7,378 L1047.6,396.2 L1047.0,397.2 L1046.4,396.2 Z" stroke="#000" stroke-width="0.6" fill="#000" />
<line x1="962.80" y1="391.10" x2="962.80" y2="405.00" stroke="#000" stroke-width="1.95" />
<line x1="980.50" y1="391.10" x2="980.50" y2="405.00" stroke="#000" stroke-width="1.95" />
<line x1="1038.30" y1="391.10" x2="1038.30" y2="405.00" stroke="#000" stroke-width="1.95" />
<line x1="1055.90" y1="391.10" x2="1055.90" y2="405.00" stroke="#000" stroke-width="1.95" />
<rect x="943.00" y="404.85" width="131.50" height="8.40" fill="#fff" stroke="#000" stroke-width="1.7" />
<line x1="940.00" y1="409.50" x2="1080.50" y2="409.50" stroke="#888" stroke-width="0.8" stroke-dasharray="3.5 1.5"/>
<rect x="945.80" y="413.60" width="14.20" height="5.80" fill="#fff" stroke="#000" stroke-width="1.6" />
<rect x="963.82" y="413.60" width="5.80" height="5.80" fill="#fff" stroke="#000" stroke-width="1.6" />
<rect x="973.58" y="413.60" width="5.94" height="5.80" fill="#fff" stroke="#000" stroke-width="1.6" />
<rect x="983.72" y="413.60" width="13.80" height="5.80" fill="#fff" stroke="#000" stroke-width="1.6" />
<rect x="1001.22" y="413.60" width="5.80" height="5.80" fill="#fff" stroke="#000" stroke-width="1.6" />
<rect x="1011.22" y="413.60" width="5.90" height="5.80" fill="#fff" stroke="#000" stroke-width="1.6" />
<rect x="1020.98" y="413.60" width="14.34" height="5.80" fill="#fff" stroke="#000" stroke-width="1.6" />
<rect x="1039.52" y="413.60" width="6.05" height="5.80" fill="#fff" stroke="#000" stroke-width="1.6" />
<rect x="1049.12" y="413.60" width="6.06" height="5.80" fill="#fff" stroke="#000" stroke-width="1.6" />
<rect x="1058.62" y="413.60" width="14.60" height="5.80" fill="#fff" stroke="#000" stroke-width="1.6" />
<line x1="952.90" y1="395.30" x2="952.90" y2="431.80" stroke="#555" stroke-width="0.8" stroke-dasharray="3 1.6"/>
<line x1="966.72" y1="395.30" x2="966.72" y2="431.80" stroke="#555" stroke-width="0.8" stroke-dasharray="3 1.6"/>
<line x1="976.55" y1="395.30" x2="976.55" y2="431.80" stroke="#555" stroke-width="0.8" stroke-dasharray="3 1.6"/>
<line x1="990.62" y1="395.30" x2="990.62" y2="431.80" stroke="#555" stroke-width="0.8" stroke-dasharray="3 1.6"/>
<line x1="1004.12" y1="395.30" x2="1004.12" y2="431.80" stroke="#555" stroke-width="0.8" stroke-dasharray="3 1.6"/>
<line x1="1014.17" y1="395.30" x2="1014.17" y2="431.80" stroke="#555" stroke-width="0.8" stroke-dasharray="3 1.6"/>
<line x1="1028.15" y1="395.30" x2="1028.15" y2="431.80" stroke="#555" stroke-width="0.8" stroke-dasharray="3 1.6"/>
<line x1="1042.55" y1="395.30" x2="1042.55" y2="431.80" stroke="#555" stroke-width="0.8" stroke-dasharray="3 1.6"/>
<line x1="1052.15" y1="395.30" x2="1052.15" y2="431.80" stroke="#555" stroke-width="0.8" stroke-dasharray="3 1.6"/>
<line x1="1065.92" y1="395.30" x2="1065.92" y2="431.80" stroke="#555" stroke-width="0.8" stroke-dasharray="3 1.6"/>
<text x="0" y="0" font-family="Liberation Sans" font-size="26.5" font-weight="bold" textLength="130.0" lengthAdjust="spacing" stroke="#000" stroke-width="0.55" transform="translate(52.6,937.6) scale(0.88,1)">Front View</text>
<text x="0" y="0" font-family="Liberation Sans" font-size="26.5" font-weight="bold" textLength="121.0" lengthAdjust="spacing" stroke="#000" stroke-width="0.55" transform="translate(331.0,937.6) scale(0.88,1)">Side View</text>
<text x="0" y="0" font-family="Liberation Sans" font-size="26.5" font-weight="bold" textLength="126.5" lengthAdjust="spacing" stroke="#000" stroke-width="0.55" transform="translate(598.4,937.6) scale(0.88,1)">Back View</text>
<text x="0" y="0" font-family="Liberation Sans" font-size="26.5" font-weight="bold" textLength="110.0" lengthAdjust="spacing" stroke="#000" stroke-width="0.55" transform="translate(968.0,490.8) scale(0.88,1)">Top view</text>
</svg>
</body></html>
